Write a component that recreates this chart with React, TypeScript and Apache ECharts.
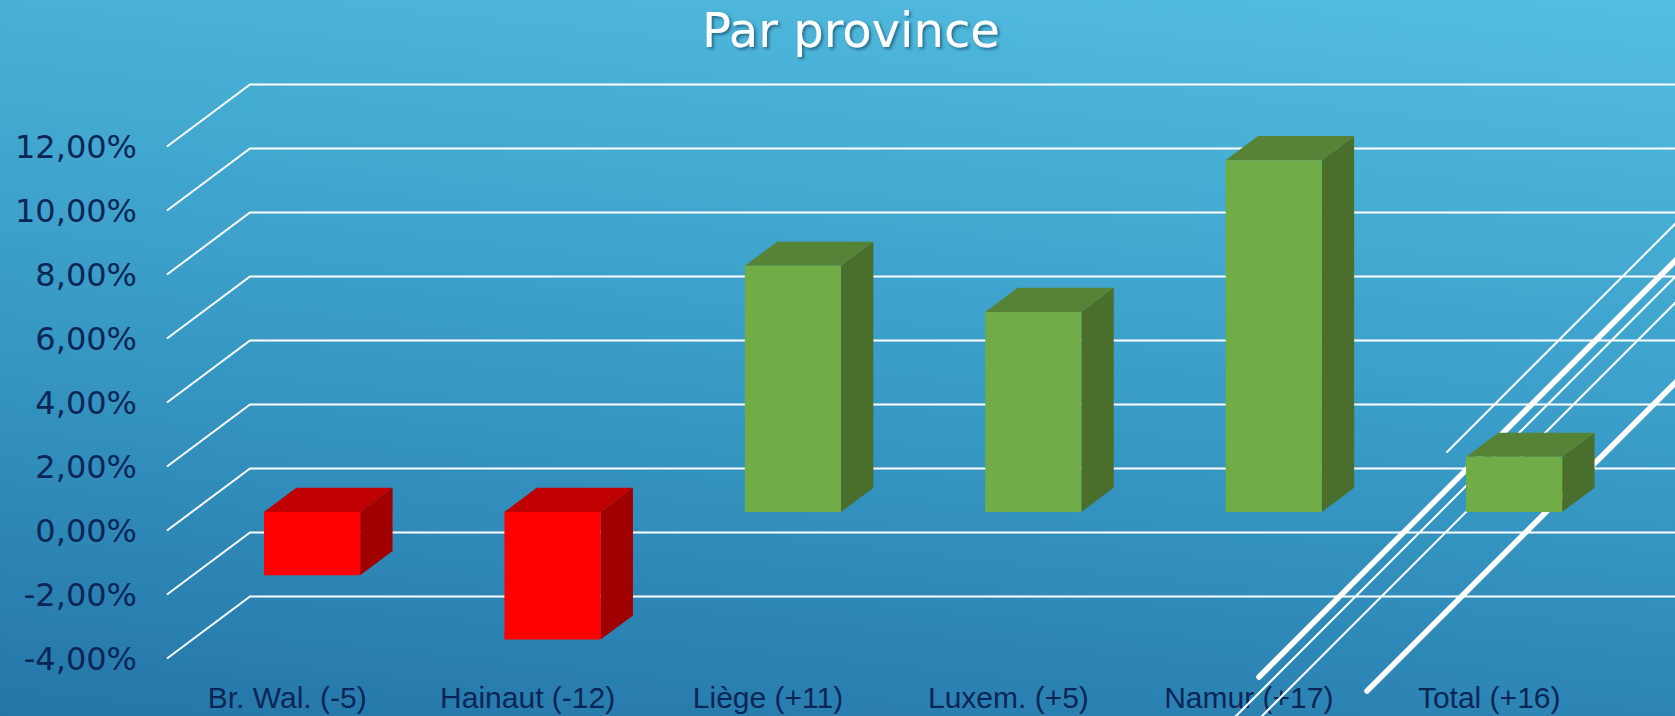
import React, { useEffect, useRef } from "react";
import * as echarts from "echarts";

const categories = ["Br. Wal. (-5)", "Hainaut (-12)", "Liège (+11)", "Luxem. (+5)", "Namur (+17)", "Total (+16)"];
const values = [-1.98, -3.99, 7.69, 6.25, 10.99, 1.72];
const yTicks = [-4, -2, 0, 2, 4, 6, 8, 10, 12];
const titleText = "Par province";

// 3D projection constants (pixels)
const DEPTH_X = 83;
const DEPTH_Y = 62;
const FACE_DEPTH = 0.3;
const BOX_DEPTH = 0.39;

const RED = { face: "#ff0000", top: "#c00000", side: "#a00000" };
const GREEN = { face: "#70ad47", top: "#578336", side: "#4a6e2b" };

export default function App() {
  const ref = useRef<HTMLDivElement>(null);
  useEffect(() => {
    if (!ref.current) return;
    const chart = echarts.init(ref.current, undefined, { renderer: "svg" });
    const deco = [
      { x1: 1447, y1: 452, x2: 1847, y2: 52, w: 2 },
      { x1: 1259, y1: 677, x2: 1859, y2: 77, w: 5.5 },
      { x1: 1200, y1: 752, x2: 1800, y2: 152, w: 2 },
      { x1: 1220, y1: 758, x2: 1820, y2: 158, w: 2 },
      { x1: 1367, y1: 691, x2: 1767, y2: 291, w: 5.5 },
    ];
    chart.setOption({
      animation: false,
      title: {
        text: titleText,
        left: 697,
        top: 1,
        textStyle: {
          color: "#ffffff",
          fontFamily: "DejaVu Sans",
          fontWeight: "normal",
          fontSize: 48,
          textShadowColor: "rgba(0,30,60,0.5)",
          textShadowBlur: 3,
          textShadowOffsetX: 2,
          textShadowOffsetY: 2,
        },
      },
      grid: { left: 167, right: 65.6, top: 146.5, bottom: 57.5, containLabel: false },
      xAxis: {
        type: "category",
        data: categories,
        axisLine: { show: false },
        axisTick: { show: false },
        splitLine: { show: false },
        axisLabel: {
          color: "#0b2557",
          fontFamily: "Liberation Sans",
          fontSize: 30,
          margin: 24,
          interval: 0,
        },
      },
      yAxis: {
        type: "value",
        min: -4,
        max: 12,
        interval: 2,
        axisLine: { show: false },
        axisTick: { show: false },
        splitLine: { show: false },
        axisLabel: {
          color: "#0b2557",
          fontFamily: "DejaVu Sans",
          fontSize: 32,
          margin: 30,
          formatter: (v: number) => v.toFixed(2).replace(".", ",") + "%",
        },
      },
      graphic: deco.map((d) => ({
        type: "line",
        z: 2,
        silent: true,
        shape: { x1: d.x1, y1: d.y1, x2: d.x2, y2: d.y2 },
        style: { stroke: "#ffffff", lineWidth: d.w, lineCap: "round" },
      })),
      series: [
        {
          type: "custom",
          z: 1,
          silent: true,
          data: yTicks.map((v) => [0, v]),
          renderItem: (params: any, api: any) => {
            const cs = params.coordSys;
            const y = api.coord([0, api.value(1)])[1];
            return {
              type: "polyline",
              shape: {
                points: [
                  [cs.x, y],
                  [cs.x + DEPTH_X, y - DEPTH_Y],
                  [cs.x + cs.width + DEPTH_X + 20, y - DEPTH_Y],
                ],
              },
              style: { stroke: "#ffffff", lineWidth: 2, fill: null },
            };
          },
        },
        {
          type: "custom",
          z: 3,
          silent: true,
          data: values.map((v, i) => [i, v]),
          renderItem: (params: any, api: any) => {
            const i = api.value(0);
            const v = api.value(1);
            const p0 = api.coord([i, 0]);
            const p1 = api.coord([i, v]);
            const band = api.size([1, 0])[0];
            const half = band * 0.2;
            const ox = FACE_DEPTH * DEPTH_X;
            const oy = FACE_DEPTH * DEPTH_Y;
            const cx = p0[0] + ox;
            const ya = p0[1] - oy;
            const yb = p1[1] - oy;
            const yt = Math.min(ya, yb);
            const ybot = Math.max(ya, yb);
            const xl = cx - half;
            const xr = cx + half;
            const dx = BOX_DEPTH * DEPTH_X;
            const dy = BOX_DEPTH * DEPTH_Y;
            const c = v < 0 ? RED : GREEN;
            return {
              type: "group",
              children: [
                {
                  type: "polygon",
                  shape: { points: [[xr, yt], [xr + dx, yt - dy], [xr + dx, ybot - dy], [xr, ybot]] },
                  style: { fill: c.side },
                },
                {
                  type: "polygon",
                  shape: { points: [[xl, yt], [xr, yt], [xr + dx, yt - dy], [xl + dx, yt - dy]] },
                  style: { fill: c.top },
                },
                {
                  type: "rect",
                  shape: { x: xl, y: yt, width: xr - xl, height: ybot - yt },
                  style: { fill: c.face },
                },
              ],
            };
          },
        },
      ],
    });
    return () => chart.dispose();
  }, []);
  return (
    <div
      style={{
        position: "fixed",
        left: 0,
        top: 0,
        width: 1675,
        height: 716,
        background: "linear-gradient(186deg, #53bee0 0%, #3a9dc8 50%, #2476a8 100%)",
      }}
    >
      <div ref={ref} style={{ width: 1675, height: 716 }} />
    </div>
  );
}
